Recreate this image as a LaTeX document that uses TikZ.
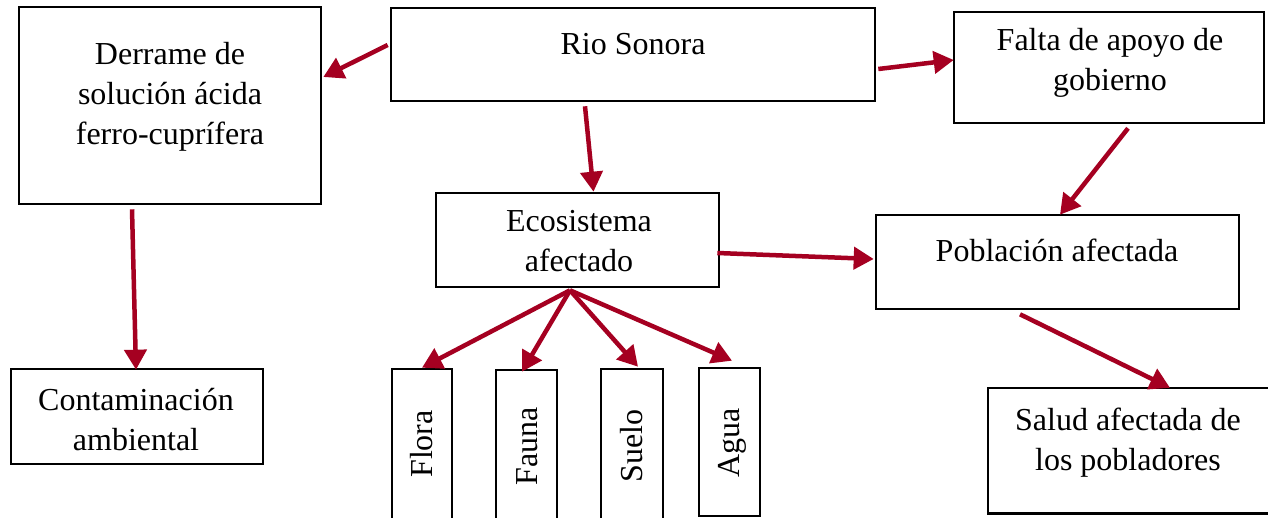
\documentclass[tikz,border=0pt]{standalone}
\usepackage{fontspec}
\setmainfont{Liberation Serif}
\usetikzlibrary{arrows.meta,calc}
\definecolor{arrred}{RGB}{165,0,33}
\tikzset{
  box/.style={draw=black, line width=2.6pt, inner sep=0pt, fill=none},
  openbox/.style={draw=none, inner sep=0pt},
  sideline/.style={draw=black, line width=2.6pt},
  txt/.style={font=\fontsize{32}{40}\selectfont, align=center, inner sep=0pt, text=black},
  arr/.style={draw=arrred, line width=4.5pt, -{Triangle[length=20pt,width=22pt]}, arrred},
}
\newcommand{\st}{\strut}
\begin{document}
\begin{tikzpicture}[x=1pt,y=-1pt]
\useasboundingbox[fill=white] (0,0) rectangle (1268,518);
% boxes
\node[box, minimum width=302pt, minimum height=197pt] (derr) at (170,105.5) {};
\node[box, minimum width=484pt, minimum height=93pt] (rio) at (633,54.5) {};
\node[box, minimum width=310pt, minimum height=111pt] (falta) at (1109,67.5) {};
\node[box, minimum width=283pt, minimum height=94pt] (eco) at (577.5,240) {};
\node[box, minimum width=363pt, minimum height=94pt] (pob) at (1057.5,262) {};
\node[box, minimum width=252pt, minimum height=95pt] (cont) at (137,416.5) {};
\node[openbox, minimum width=284pt, minimum height=125pt] (salud) at (1130,450.5) {};
\draw[sideline] (salud.north east) -- (salud.north west) -- (salud.south west) -- (salud.south east);
\node[box, minimum width=60pt, minimum height=171pt] (flora) at (422,454.5) {};
\node[box, minimum width=61pt, minimum height=170pt] (fauna) at (526.5,455) {};
\node[box, minimum width=62pt, minimum height=171pt] (suelo) at (632,454.5) {};
\node[box, minimum width=61pt, minimum height=148pt] (agua) at (729.5,442) {};
% texts
\node[txt] (derrT) at (170,97) {\st Derrame de\\\st solución ácida\\\st ferro-cuprífera};
\node[txt] (rioT) at (633,47) {\st Rio Sonora};
\node[txt] (faltaT) at (1110,63) {\st Falta de apoyo de\\\st gobierno};
\node[txt] (ecoT) at (579,244) {\st Ecosistema\\\st afectado};
\node[txt] (pobT) at (1057,254) {\st Población afectada};
\node[txt] (contT) at (136,422) {\st Contaminación\\\st ambiental};
\node[txt] (saludT) at (1128,442) {\st Salud afectada de\\\st los pobladores};
\node[txt, rotate=90] (floraT) at (424,444) {\st Flora};
\node[txt, rotate=90] (faunaT) at (529,446) {\st Fauna};
\node[txt, rotate=90] (sueloT) at (634,446) {\st Suelo};
\node[txt, rotate=90] (aguaT) at (731,443) {\st Agua};
% connectors
\draw[arr] ($(rio.west)+(-2,-9.5)$) -- ($(derr.east)+(1,-28.5)$);
\draw[arr] ($(rio.south)+(-48,4)$) -- ($(eco.north)+(16,0)$);
\draw[arr] ($(rio.east)+(2,14.5)$) -- ($(falta.west)+(1,-7.5)$);
\draw[arr] ($(falta.south)+(19,4)$) -- ($(pob.north)+(2.5,1)$);
\draw[arr] ($(eco.east)+(-3,13)$) -- ($(pob.west)+(-1,-3)$);
\draw[arr] ($(derr.south)+(-38,4)$) -- ($(cont.north)+(-1,2)$);
\draw[arr] ($(pob.south)+(-37.5,4)$) -- ($(salud.north)+(40,0)$);
\coordinate (fan) at ($(eco.south)+(-7.5,2)$);
\draw[arr] (fan) -- (flora.north);
\draw[arr] (fan) -- ($(fauna.north)+(-4.5,3)$);
\draw[arr] (fan) -- ($(suelo.north)+(6,-1)$);
\draw[arr] (fan) -- ($(agua.north)+(2.5,-6)$);
\end{tikzpicture}
\end{document}
